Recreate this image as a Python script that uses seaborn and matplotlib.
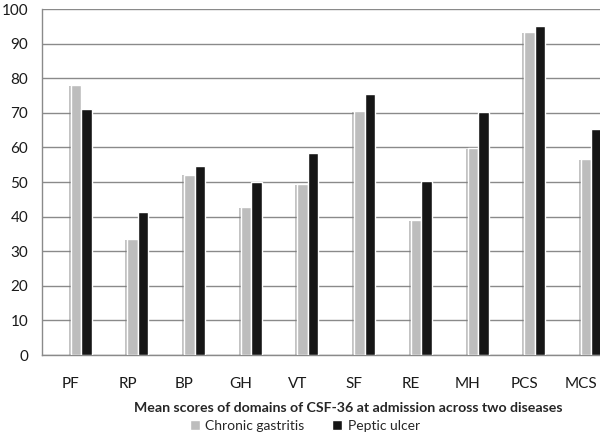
import matplotlib
matplotlib.use("Agg")
import matplotlib.pyplot as plt
import matplotlib.patheffects as pe
import numpy as np
import pandas as pd
import seaborn as sns
from matplotlib.patches import Patch

# ---------------------------------------------------------------------------
# Datos
# ---------------------------------------------------------------------------
domains = ["PF", "RP", "BP", "GH", "VT", "SF", "RE", "MH", "PCS", "MCS"]
chronic_gastritis = [78.0, 33.4, 52.1, 42.8, 49.3, 70.6, 38.9, 59.9, 93.4, 56.6]
peptic_ulcer = [71.0, 41.3, 54.7, 50.0, 58.3, 75.5, 50.3, 70.2, 95.0, 65.4]
diseases = ["Chronic gastritis", "Peptic ulcer"]
y_ticks = list(range(0, 101, 10))

df = pd.DataFrame({
    "domain": domains * 2,
    "score": chronic_gastritis + peptic_ulcer,
    "disease": [diseases[0]] * len(domains) + [diseases[1]] * len(domains),
})

gray = "#BDBDBD"
black = "#161616"
grid_col = "#8A8A8A"

sns.set_style("white")
plt.rcParams["font.family"] = ["Lato", "DejaVu Sans"]

fig = plt.figure(figsize=(6, 4.34), dpi=100)
ax = fig.add_axes([0.07, 0.182, 0.93, 0.797])

sns.barplot(
    data=df, x="domain", y="score", hue="disease",
    palette=[gray, black], width=0.37, gap=0, saturation=1,
    legend=False, ax=ax, zorder=3,
)

# sombra suave a la izquierda de las barras grises (efecto de Excel)
for bar in ax.containers[0]:
    bar.set_path_effects([
        pe.SimplePatchShadow(offset=(-1.5, -0.5), shadow_rgbFace="#7a7a7a", alpha=0.45),
        pe.Normal(),
    ])

ax.set_ylim(0, 100)
ax.set_yticks(y_ticks)
ax.set_xlim(-0.69, 9.15)
ax.set_xticks(np.arange(len(domains)) - 0.18, domains)
ax.yaxis.grid(True, color=grid_col, linewidth=1)
ax.set_axisbelow(True)
ax.tick_params(axis="y", length=0, pad=10, labelsize=11, colors="#1a1a1a")
ax.tick_params(axis="x", length=0, pad=16, labelsize=11, colors="#1a1a1a")
ax.set_xlabel("")
ax.set_ylabel("")
for side in ["top", "right"]:
    ax.spines[side].set_visible(False)
for side in ["left", "bottom"]:
    ax.spines[side].set_color(grid_col)
    ax.spines[side].set_linewidth(1)

fig.text(0.58, 0.06, "Mean scores of domains of CSF-36 at admission across two diseases",
         ha="center", va="center", fontsize=10.2, fontweight="bold")

handles = [Patch(facecolor=gray, label=diseases[0]), Patch(facecolor=black, label=diseases[1])]
fig.legend(handles=handles, loc="center", bbox_to_anchor=(0.508, 0.018), ncol=2,
           frameon=False, fontsize=10, handlelength=0.7, handleheight=0.7,
           handletextpad=0.4, columnspacing=2.0, borderpad=0)

fig.savefig("out.png", dpi=100)
